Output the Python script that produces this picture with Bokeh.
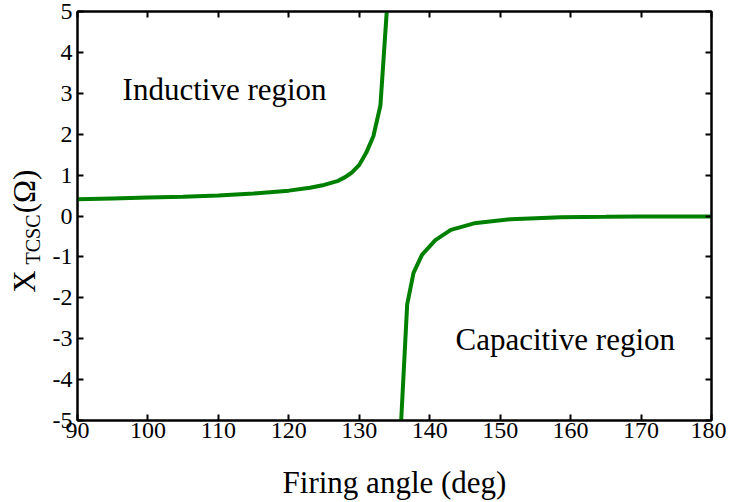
import math
from bokeh.plotting import figure
from bokeh.layouts import row
from bokeh.models import LinearAxis, Label, FixedTicker, Range1d, PrintfTickFormatter, CustomJSTickFormatter
from bokeh.embed import file_html
from bokeh.resources import INLINE

# Data
ind_angle = [90, 95, 100, 105, 110, 115, 120, 123, 125, 127, 128, 129, 130, 131, 132, 133, 133.9]
ind_x = [0.41, 0.43, 0.45, 0.47, 0.50, 0.55, 0.62, 0.69, 0.76, 0.86, 0.95, 1.07, 1.25, 1.55, 1.95, 2.70, 5.0]

cap_angle = [135.95, 136.8, 137.7, 138.9, 140.8, 143.0, 146.3, 151.5, 158.6, 165, 170, 180]
cap_x = [-5.0, -2.16, -1.39, -0.95, -0.59, -0.34, -0.18, -0.08, -0.03, -0.02, -0.01, -0.01]

x_ticks = [90, 100, 110, 120, 130, 140, 150, 160, 170, 180]
y_ticks = [-5, -4, -3, -2, -1, 0, 1, 2, 3, 4, 5]

FONT = "Liberation Serif"
GREEN = "#008000"
H = 502
LW = 45

# narrow strip holding the composed y-axis label X_TCSC(Ω)
lab = figure(frame_width=LW, frame_height=H, output_backend="svg", toolbar_location=None,
             x_range=Range1d(0, LW), y_range=Range1d(0, H),
             x_axis_location=None, y_axis_location=None,
             min_border_left=0, min_border_right=0, min_border_top=0, min_border_bottom=0)
lab.grid.visible = False
lab.outline_line_color = None
lab.border_fill_color = "white"

def ylab(x, y, text, size):
    lab.add_layout(Label(x=x, y=y, text=text, angle=math.pi/2, text_color="black",
                         text_font=FONT, text_font_size=size,
                         text_align="center", text_baseline="middle"))

ylab(24, H - 270, "X", "31px")
ylab(32, H - 228, "TCSC", "20px")
ylab(24, H - 180, "(Ω)", "31px")

p = figure(width=726 - LW, height=H, output_backend="svg", toolbar_location=None,
           x_range=Range1d(90, 180), y_range=Range1d(-5, 5),
           min_border_left=77 - LW, min_border_right=15, min_border_top=11, min_border_bottom=H - 424,
           x_axis_label="Firing angle (deg)")
p.grid.visible = False
p.background_fill_color = "white"
p.border_fill_color = "white"
p.outline_line_color = "black"
p.outline_line_width = 2

p.line(ind_angle, ind_x, line_color=GREEN, line_width=4)
p.line(cap_angle, cap_x, line_color=GREEN, line_width=4)

def style_axis(ax, show_labels=True):
    ax.axis_line_color = "black"
    ax.axis_line_width = 2
    ax.major_tick_in = 6
    ax.major_tick_out = 0
    ax.major_tick_line_width = 2
    ax.minor_tick_line_color = None
    ax.major_label_text_font = FONT
    ax.major_label_text_color = "black"
    if show_labels:
        ax.major_label_text_font_size = "24px"
        ax.formatter = PrintfTickFormatter(format="%d")
    else:
        ax.formatter = CustomJSTickFormatter(code="return ''")
        ax.major_label_text_font_size = "1px"
        ax.major_label_standoff = 0

xa = p.xaxis[0]
xa.ticker = FixedTicker(ticks=x_ticks)
style_axis(xa)
xa.major_label_standoff = 2
xa.axis_label_text_font = FONT
xa.axis_label_text_font_size = "31px"
xa.axis_label_text_font_style = "normal"
xa.axis_label_text_color = "black"
xa.axis_label_standoff = 24

ya = p.yaxis[0]
ya.ticker = FixedTicker(ticks=y_ticks)
style_axis(ya)
ya.major_label_standoff = 5

top = LinearAxis(ticker=FixedTicker(ticks=x_ticks))
style_axis(top, False)
p.add_layout(top, "above")
right = LinearAxis(ticker=FixedTicker(ticks=y_ticks))
style_axis(right, False)
p.add_layout(right, "right")

p.add_layout(Label(x=96.4, y=3.09, text="Inductive region", text_font=FONT, text_font_size="31px",
                   text_color="black", text_align="left", text_baseline="alphabetic"))
p.add_layout(Label(x=143.66, y=-3.01, text="Capacitive region", text_font=FONT, text_font_size="31px",
                   text_color="black", text_align="left", text_baseline="alphabetic"))

layout = row(lab, p, spacing=0)
open("out.html", "w").write(file_html(layout, INLINE))
